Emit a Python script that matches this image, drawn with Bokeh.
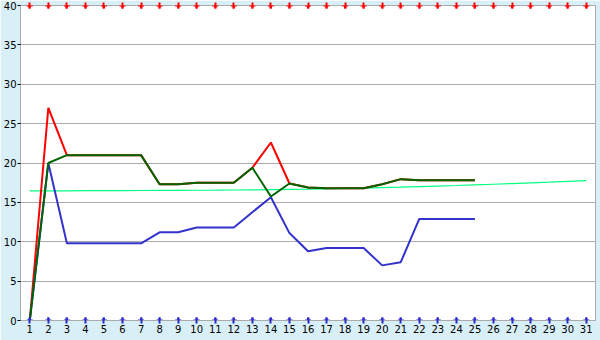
from bokeh.plotting import figure
from bokeh.models import Range1d, FixedTicker, LinearAxis
from bokeh.embed import file_html
from bokeh.resources import INLINE

days = list(range(1, 26))
all_days = list(range(1, 32))

red_vals = [0, 27, 21, 21, 21, 21, 21, 17.3, 17.3, 17.5, 17.5, 17.5, 19.4, 22.6, 17.4,
            16.9, 16.8, 16.8, 16.8, 17.3, 17.95, 17.8, 17.8, 17.8, 17.8]
green_vals = [0, 20, 21, 21, 21, 21, 21, 17.3, 17.3, 17.5, 17.5, 17.5, 19.4, 15.75, 17.4,
              16.9, 16.8, 16.8, 16.8, 17.3, 17.95, 17.8, 17.8, 17.8, 17.8]
blue_vals = [0, 20, 9.8, 9.8, 9.8, 9.8, 9.8, 11.2, 11.2, 11.8, 11.8, 11.8, 13.75, 15.66, 11.1,
             8.8, 9.2, 9.2, 9.2, 7.0, 7.4, 12.9, 12.9, 12.9, 12.9]
trend_vals = [16.45, 16.46, 16.47, 16.48, 16.49, 16.50, 16.51, 16.52, 16.53, 16.54, 16.55,
              16.57, 16.59, 16.61, 16.64, 16.67, 16.71, 16.76, 16.81, 16.87, 16.93, 17.0,
              17.07, 17.14, 17.22, 17.30, 17.39, 17.48, 17.57, 17.67, 17.77]
top_marks = [40] * 31
bottom_marks = [0] * 31
y_ticks = [0, 5, 10, 15, 20, 25, 30, 35, 40]

BG = "#d8eff7"
GRID = "#aaaaaa"
FONT = "DejaVu Sans"

p = figure(width=600, height=340, output_backend="svg", toolbar_location=None,
           x_range=Range1d(0.5, 31.5), y_range=Range1d(0, 40),
           min_border_left=20, min_border_right=5, min_border_top=5, min_border_bottom=20)
p.border_fill_color = BG
p.background_fill_color = "white"
p.outline_line_color = GRID
p.outline_line_width = 1

p.xgrid.grid_line_color = None
p.ygrid.grid_line_color = GRID
p.ygrid.grid_line_width = 1

p.xaxis.ticker = FixedTicker(ticks=all_days)
p.yaxis.ticker = FixedTicker(ticks=y_ticks)
for ax in (p.xaxis, p.yaxis):
    ax.axis_line_color = GRID
    ax.major_label_text_font = FONT
    ax.major_label_text_font_size = "10px"
    ax.major_label_text_color = "#000000"
    ax.minor_tick_line_color = None
p.xaxis.major_label_standoff = 1
p.xaxis.major_tick_line_color = "#2a2acc"
p.xaxis.major_tick_line_width = 2
p.xaxis.major_tick_in = 3
p.xaxis.major_tick_out = 3
p.yaxis.major_label_standoff = 1
p.yaxis.major_tick_line_color = "#000000"
p.yaxis.major_tick_out = 3
p.yaxis.major_tick_in = 0

top_axis = LinearAxis(ticker=FixedTicker(ticks=all_days), axis_line_color=None,
                      major_label_text_color=None, major_tick_line_color="#ff0000",
                      major_tick_line_width=2, major_tick_in=3, major_tick_out=3,
                      minor_tick_line_color=None, major_label_standoff=0)
p.add_layout(top_axis, "above")

p.line(all_days, trend_vals, line_color="#00ff80", line_width=1.2)
p.line(days, red_vals, line_color="#ff0000", line_width=2)
p.line(days, blue_vals, line_color="#3333cc", line_width=2)
p.line(days, green_vals, line_color="#006400", line_width=2)

p.scatter(all_days, top_marks, marker="cross", size=6, line_width=2, line_color="#ff0000")
p.scatter(all_days, bottom_marks, marker="cross", size=6, line_width=2, line_color="#2a2acc")

open("out.html", "w").write(file_html(p, INLINE))
